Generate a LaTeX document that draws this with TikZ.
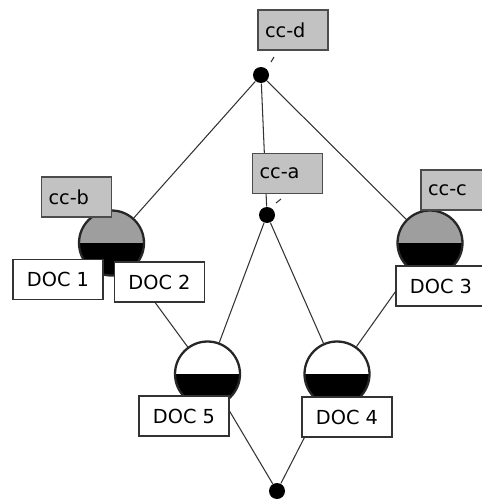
\documentclass[tikz,border=0pt]{standalone}
\usepackage{fontspec}
\setmainfont{DejaVu Sans}
\usetikzlibrary{backgrounds}
\definecolor{labelgray}{gray}{0.76}
\definecolor{ballgray}{gray}{0.62}
\definecolor{wire}{gray}{0.2}
\begin{document}
\begin{tikzpicture}[x=0.02cm, y=-0.02cm, line width=0.6pt,
  dot/.style={circle, fill=black, inner sep=0pt, minimum size=0.32cm},
  ball/.style={circle, draw=black!85, line width=1.3pt, inner sep=0pt,
    minimum size=1.3cm, fill=#1,
    path picture={\fill[black] (path picture bounding box.west)
      rectangle (path picture bounding box.south east);}},
  ccbox/.style={draw=black!70, fill=labelgray, line width=0.7pt,
    text width=1.12cm, align=left, inner xsep=0.14cm, minimum height=0.8cm,
    font=\fontsize{11}{13}\selectfont},
  docbox/.style={draw=black!80, fill=white, line width=0.8pt,
    minimum width=1.8cm, minimum height=0.8cm,
    font=\fontsize{11}{13}\selectfont},
  link/.style={draw=wire, line width=0.6pt}]
  \useasboundingbox (0,0) rectangle (481,500);
  \node[dot] (dotd) at (261,75) {};
  \node[dot] (dota) at (267,215) {};
  \node[dot] (dote) at (277,491) {};
  \node[ball=ballgray] (ballb) at (111.5,243) {};
  \node[ball=ballgray] (ballc) at (430,243) {};
  \node[ball=white] (ball5) at (207.5,374) {};
  \node[ball=white] (ball4) at (337,374) {};
  \node[ccbox] (ccd) at (293,30) {cc-d};
  \node[ccbox] (cca) at (287.5,173.5) {cc-a};
  \node[ccbox] (ccb) at (76.5,197) {cc-b};
  \node[ccbox] (ccc) at (456,190) {cc-c};
  \node[docbox] (doc1) at (58,279.5) {DOC 1};
  \node[docbox] (doc2) at (159.5,282) {DOC 2};
  \node[docbox] (doc3) at (441,286) {DOC 3};
  \node[docbox] (doc5) at (184,416) {DOC 5};
  \node[docbox] (doc4) at (347,417) {DOC 4};
  \begin{scope}[on background layer]
    \draw[link] (dotd) -- (ballb);
    \draw[link] (dotd) -- (dota);
    \draw[link] (dotd) -- (ballc);
    \draw[link] (dota) -- (ball5);
    \draw[link] (dota) -- (ball4);
    \draw[link] (ballb) -- (ball5);
    \draw[link] (ballc) -- (ball4);
    \draw[link] (ball5) -- (dote);
    \draw[link] (ball4) -- (dote);
  \end{scope}
  \draw[link] (dotd) ++(10,-13) -- ++(3,-5);
  \draw[link] (dota) ++(9,-12) -- ++(5,-4);
\end{tikzpicture}
\end{document}
